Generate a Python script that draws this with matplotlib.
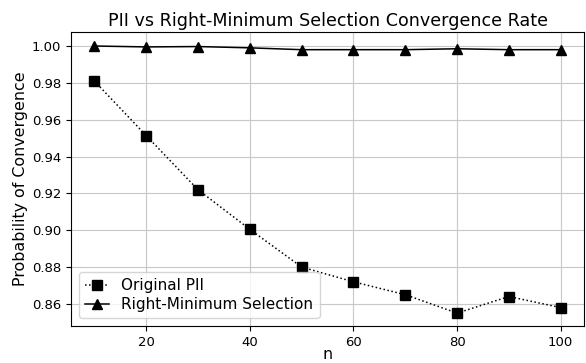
import matplotlib
matplotlib.use("Agg")
import matplotlib.pyplot as plt

n = [10, 20, 30, 40, 50, 60, 70, 80, 90, 100]
original_pii = [0.981, 0.9514, 0.922, 0.9005, 0.880, 0.872, 0.865, 0.855, 0.864, 0.858]
right_min = [1.000, 0.9995, 0.9997, 0.999, 0.998, 0.998, 0.998, 0.9985, 0.998, 0.998]

fig = plt.figure(figsize=(5.86, 3.63), dpi=100)
ax = fig.add_axes([71/586, 1-326/363, (584-71)/586, (326-32)/363])
ax.plot(n, original_pii, linestyle=':', marker='s', color='black', markersize=7,
        linewidth=1.1, label='Original PII')
ax.plot(n, right_min, linestyle='-', marker='^', color='black', markersize=7,
        linewidth=1.1, label='Right-Minimum Selection')
ax.set_title('PII vs Right-Minimum Selection Convergence Rate', fontsize=12.6, pad=4)
ax.set_xlabel('n', fontsize=11.4, labelpad=-1.5)
ax.set_ylabel('Probability of Convergence', fontsize=11.4, labelpad=3)
ax.tick_params(labelsize=9.5)
ax.grid(True, color='#c8c8c8', linewidth=0.8)
ax.legend(loc='lower left', fontsize=11, labelspacing=0.25, handlelength=1.6)
ax.set_yticks([0.86, 0.88, 0.90, 0.92, 0.94, 0.96, 0.98, 1.00])
ax.set_ylim(0.848, 1.0076)
ax.set_xlim(5.5, 104.5)
fig.savefig('out.png', dpi=100)
